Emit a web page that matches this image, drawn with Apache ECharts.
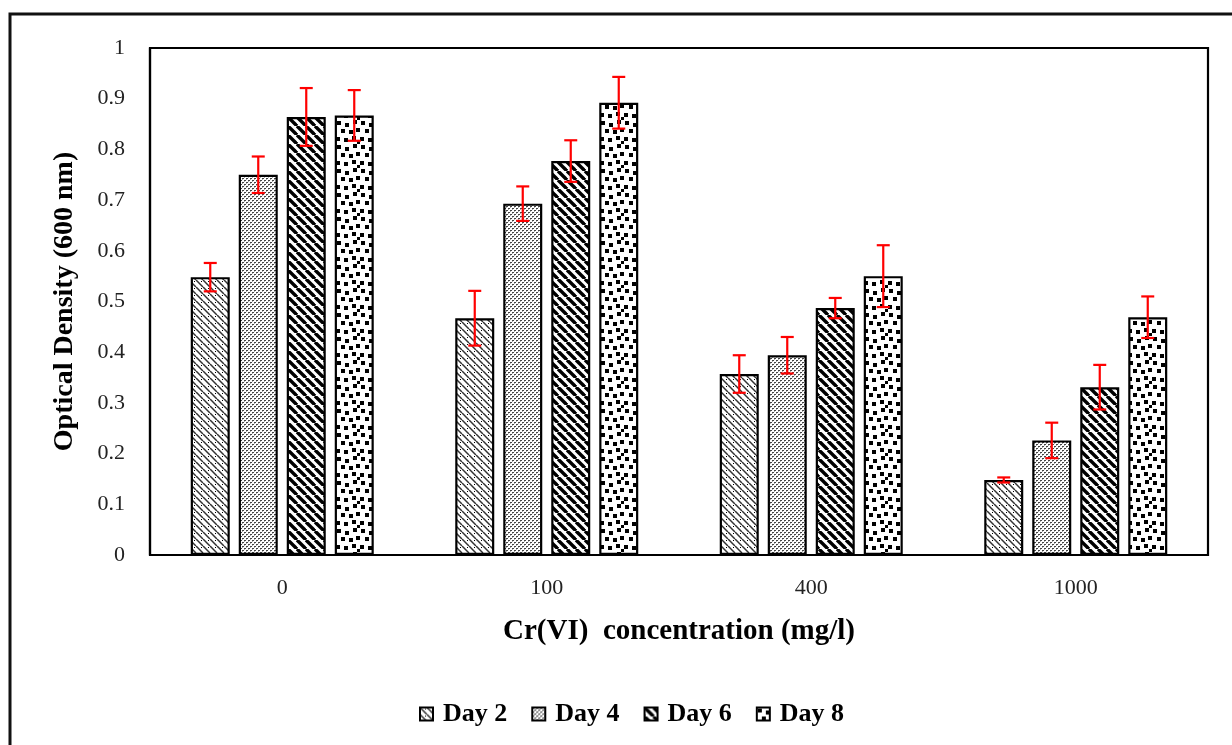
<!DOCTYPE html>
<html>
<head>
<meta charset="utf-8">
<script src="https://cdn.jsdelivr.net/npm/echarts@6/dist/echarts.min.js"></script>
<style>html,body{margin:0;padding:0;background:#fff}#c{width:1232px;height:745px}</style>
</head>
<body>
<div id="c"></div>
<script>
// ---- data ----
var categories = ['0', '100', '400', '1000'];
var seriesNames = ['Day 2', 'Day 4', 'Day 6', 'Day 8'];
var day2 = [0.548, 0.467, 0.357, 0.148];
var day4 = [0.750, 0.693, 0.394, 0.226];
var day6 = [0.864, 0.777, 0.487, 0.331];
var day8 = [0.867, 0.892, 0.550, 0.469];
var day2Err = [0.028, 0.054, 0.037, 0.005];
var day4Err = [0.036, 0.034, 0.036, 0.035];
var day6Err = [0.057, 0.041, 0.020, 0.044];
var day8Err = [0.050, 0.051, 0.061, 0.041];
var yTicks = [0, 0.1, 0.2, 0.3, 0.4, 0.5, 0.6, 0.7, 0.8, 0.9, 1];

// ---- patterns ----
function tile(w, h, draw) {
  var c = document.createElement('canvas');
  c.width = w; c.height = h;
  var g = c.getContext('2d');
  g.fillStyle = '#fff'; g.fillRect(0, 0, w, h);
  draw(g, w, h);
  return { image: c, repeat: 'repeat' };
}
function diag(g, s, lw, col) {
  g.strokeStyle = col; g.lineWidth = lw;
  for (var k = -1; k <= 1; k++) {
    g.beginPath(); g.moveTo(k * s, 0); g.lineTo(k * s + s, s); g.stroke();
  }
}
var pat2 = tile(7, 7, function (g) { diag(g, 7, 1.5, '#333'); g.fillStyle = '#000'; g.fillRect(5, 1, 1, 1); });
var pat4 = tile(4, 4, function (g) {
  g.fillStyle = '#444'; g.fillRect(0, 0, 2, 1); g.fillRect(2, 2, 2, 1);
  g.fillStyle = '#aaa'; g.fillRect(0, 1, 1, 1); g.fillRect(2, 3, 1, 1);
});
var pat6 = tile(9, 9, function (g) { diag(g, 9, 3.4, '#000'); });
var pat8 = tile(24, 24, function (g) {
  g.fillStyle = '#000';
  var sq = [[1,1],[9,3],[17,0],[5,9],[13,10],[20,8],[0,17],[8,18],[16,16],[21,21]];
  sq.forEach(function (p) { g.fillRect(p[0], p[1], 4, 4); });
});
var patterns = [pat2, pat4, pat6, pat8];
var values = [day2, day4, day6, day8];
var errors = [day2Err, day4Err, day6Err, day8Err];

var BAR_W = 39;
var BAR_GAP = 9;

var series = [];
values.forEach(function (v, i) {
  series.push({
    name: seriesNames[i], type: 'bar', data: v,
    barWidth: BAR_W, barGap: (BAR_GAP / BAR_W * 100) + '%',
    itemStyle: { color: patterns[i], borderColor: '#000', borderWidth: 2.2 },
    emphasis: { disabled: true }
  });
});
values.forEach(function (v, i) {
  var data = v.map(function (val, j) { return [j, val, errors[i][j]]; });
  series.push({
    type: 'custom', silent: true, z: 10,
    data: data,
    renderItem: function (params, api) {
      var ci = api.value(0), val = api.value(1), e = api.value(2);
      var off = (i - 1.5) * (BAR_W + BAR_GAP);
      var hi = api.coord([ci, val + e]);
      var lo = api.coord([ci, val - e]);
      var x = hi[0] + off, cw = 6.5;
      var st = { stroke: '#f00', lineWidth: 2.2 };
      return { type: 'group', children: [
        { type: 'line', shape: { x1: x, y1: hi[1], x2: x, y2: lo[1] }, style: st },
        { type: 'line', shape: { x1: x - cw, y1: hi[1], x2: x + cw, y2: hi[1] }, style: st },
        { type: 'line', shape: { x1: x - cw, y1: lo[1], x2: x + cw, y2: lo[1] }, style: st }
      ]};
    }
  });
});

var serif = '"Liberation Serif", "Times New Roman", serif';
var chart = echarts.init(document.getElementById('c'), null, { renderer: 'canvas' });
chart.setOption({
  animation: false,
  backgroundColor: '#fff',
  graphic: [{ type: 'rect', shape: { x: 10, y: 14, width: 1260, height: 780 },
    style: { fill: 'none', stroke: '#111', lineWidth: 3 }, silent: true }],
  grid: { left: 150, right: 24, top: 48, bottom: 190, show: true, borderColor: '#000', borderWidth: 2.2, backgroundColor: 'transparent' },
  legend: {
    data: seriesNames, top: 696, left: 414, icon: 'rect', itemWidth: 13, itemHeight: 13, itemGap: 24,
    itemStyle: { borderColor: '#000', borderWidth: 2 },
    textStyle: { fontFamily: serif, fontWeight: 'bold', fontSize: 26, color: '#000', padding: [0, 0, 0, 5] }
  },
  xAxis: {
    type: 'category', data: categories,
    axisLine: { show: true, lineStyle: { color: '#000', width: 2.2 } },
    axisTick: { show: false },
    axisLabel: { fontFamily: serif, fontSize: 22, color: '#222', margin: 22 },
    name: 'Cr(VI)  concentration (mg/l)', nameLocation: 'middle', nameGap: 62,
    nameTextStyle: { fontFamily: serif, fontWeight: 'bold', fontSize: 29, color: '#000' }
  },
  yAxis: {
    type: 'value', min: yTicks[0], max: yTicks[yTicks.length - 1], interval: 0.1,
    axisLine: { show: true, lineStyle: { color: '#000', width: 2.2 } },
    axisTick: { show: false },
    splitLine: { show: false },
    axisLabel: { fontFamily: serif, fontSize: 22, color: '#222', margin: 25,
      formatter: function (v) { return String(Math.round(v * 10) / 10); } },
    name: 'Optical Density (600 nm)', nameLocation: 'middle', nameGap: 71,
    nameTextStyle: { fontFamily: serif, fontWeight: 'bold', fontSize: 28, color: '#000' }
  },
  series: series
});
</script>
</body>
</html>
